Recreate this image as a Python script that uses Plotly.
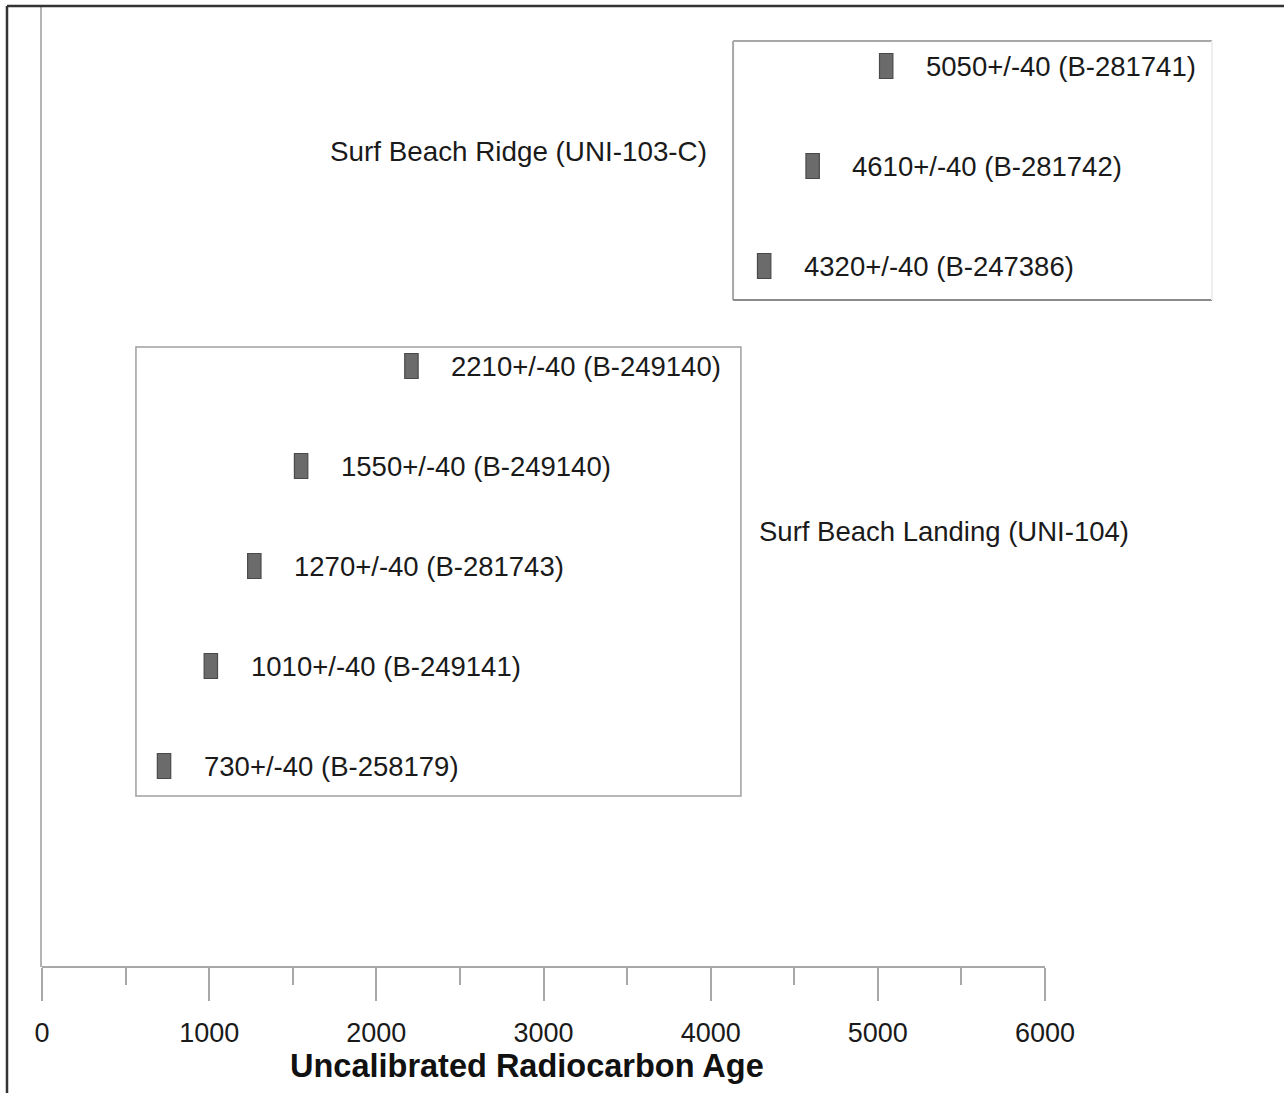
import plotly.graph_objects as go

# ---- data ----
ages = [730, 1010, 1270, 1550, 2210, 4320, 4610, 5050]
errors = [40, 40, 40, 40, 40, 40, 40, 40]
lab_ids = ["B-258179", "B-249141", "B-281743", "B-249140", "B-249140",
           "B-247386", "B-281742", "B-281741"]
labels = [f"{a}+/-{e} ({l})" for a, e, l in zip(ages, errors, lab_ids)]
group_names = ["Surf Beach Ridge (UNI-103-C)", "Surf Beach Landing (UNI-104)"]
x_ticks = [0, 1000, 2000, 3000, 4000, 5000, 6000]
x_minor = [500, 1500, 2500, 3500, 4500, 5500]
x_title = "Uncalibrated Radiocarbon Age"

FONT = "Liberation Sans, Arial, sans-serif"
W, H = 1284, 1093
ML, MR, MT, MB = 42, 0, 6, 126
px_per_unit = (1045 - 42) / 6000.0
x_max = (W - ML - MR) / px_per_unit

fig = go.Figure()
fig.add_trace(go.Bar(
    y=labels,
    x=[2 * e for e in errors],
    base=[a - e for a, e in zip(ages, errors)],
    orientation="h",
    width=0.25,
    marker=dict(color="#6b6b6b", line=dict(color="#4a4a4a", width=1.2)),
    showlegend=False,
    hoverinfo="skip",
))

annotations = []
for i, (a, e, t) in enumerate(zip(ages, errors, labels)):
    annotations.append(dict(
        x=a + e, y=i, xref="x", yref="y", text=t, showarrow=False,
        xanchor="left", yanchor="middle", xshift=31,
        font=dict(family=FONT, size=27.5, color="#1a1a1a"),
    ))

# group labels
annotations.append(dict(
    x=3990, y=6.15, xref="x", yref="y", text=group_names[0], showarrow=False,
    xanchor="right", yanchor="middle",
    font=dict(family=FONT, size=27.8, color="#1a1a1a"),
))
annotations.append(dict(
    x=4277, y=2.35, xref="x", yref="y", text=group_names[1], showarrow=False,
    xanchor="left", yanchor="middle",
    font=dict(family=FONT, size=27.5, color="#1a1a1a"),
))
# axis title
annotations.append(dict(
    x=(527 - ML) / (W - ML - MR), y=(967 - 1066) / (H - MT - MB),
    xref="paper", yref="paper", text="<b>" + x_title + "</b>", showarrow=False,
    xanchor="center", yanchor="middle",
    font=dict(family=FONT, size=32.5, color="#111111"),
))

shapes = []
# upper box
box_col = "#a8a8a8"
shapes += [
    dict(type="line", xref="x", yref="y", x0=4134, x1=6999, y0=7.25, y1=7.25, line=dict(color=box_col, width=2)),
    dict(type="line", xref="x", yref="y", x0=4134, x1=4134, y0=7.25, y1=4.66, line=dict(color=box_col, width=2)),
    dict(type="line", xref="x", yref="y", x0=4134, x1=6999, y0=4.66, y1=4.66, line=dict(color="#8c8c8c", width=2)),
    dict(type="line", xref="x", yref="y", x0=6999, x1=6999, y0=7.25, y1=4.66, line=dict(color="#eeeeee", width=2)),
]
# lower box
shapes.append(dict(type="rect", xref="x", yref="y", x0=562, x1=4181, y0=4.19, y1=-0.30,
                   line=dict(color="#a0a0a0", width=1.5)))
# x-axis line (0..6000)
shapes.append(dict(type="line", xref="x", yref="paper", x0=0, x1=6000, y0=0, y1=0,
                   line=dict(color="#a8a8a8", width=2)))
# outer frame (top and left)
fx = (7 - ML) / (W - ML - MR)
fy_bot = (MT + (H - MT - MB) - H) / (H - MT - MB)
shapes.append(dict(type="line", xref="paper", yref="paper", x0=fx, x1=1.0, y0=1.0, y1=1.0,
                   line=dict(color="#333333", width=2.5)))
shapes.append(dict(type="line", xref="paper", yref="paper", x0=fx, x1=fx, y0=fy_bot, y1=1.0,
                   line=dict(color="#333333", width=2.5)))

fig.update_layout(
    width=W, height=H,
    margin=dict(l=ML, r=MR, t=MT, b=MB, pad=0),
    paper_bgcolor="white", plot_bgcolor="white",
    font=dict(family=FONT, color="#1a1a1a"),
    xaxis=dict(
        range=[0, x_max], showgrid=False, zeroline=False, showline=False,
        tickmode="array", tickvals=x_ticks, ticktext=[str(v) for v in x_ticks],
        ticks="outside", ticklen=33, tickwidth=2, tickcolor="#a8a8a8",
        tickfont=dict(family=FONT, size=27, color="#1a1a1a"),
        ticklabelstandoff=9,
        minor=dict(tickmode="array", tickvals=x_minor, ticks="outside", ticklen=17,
                   tickwidth=2, tickcolor="#a8a8a8", showgrid=False),
    ),
    yaxis=dict(
        type="category", categoryorder="array", categoryarray=labels,
        range=[-2.01, 7.6], showgrid=False, zeroline=False,
        showline=True, linecolor="#b4b4b4", linewidth=2,
        showticklabels=False, ticks="",
    ),
    shapes=shapes,
    annotations=annotations,
)

fig.write_html(
    "out.html",
    config={"displayModeBar": False},
    post_script="document.body.style.margin='0px';document.body.style.overflow='hidden';",
)
